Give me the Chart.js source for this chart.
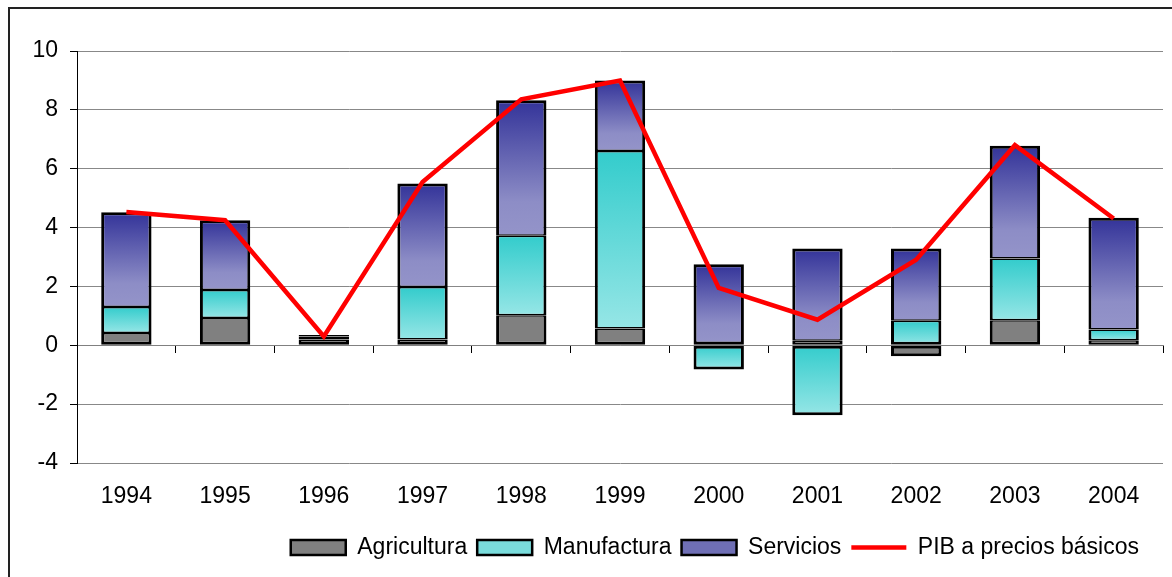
<!DOCTYPE html>
<html>
<head>
<meta charset="utf-8">
<script src="https://cdn.jsdelivr.net/npm/chart.js@4.4.1/dist/chart.umd.min.js"></script>
<style>
  html, body { margin: 0; padding: 0; background: #fff; }
  #wrap { position: relative; width: 1172px; height: 577px; overflow: hidden; }
  #frame { position: absolute; left: 8px; top: 7px; width: 1300px; height: 700px;
           border: 2px solid #222; box-sizing: border-box; pointer-events: none; }
  canvas { position: absolute; left: 0; top: 0; }
</style>
</head>
<body>
<div id="wrap">
  <canvas id="c" width="1172" height="577"></canvas>
  <div id="frame"></div>
</div>
<script>
const years = ['1994','1995','1996','1997','1998','1999','2000','2001','2002','2003','2004'];
const agricultura = [0.42, 0.93, 0.20, 0.20, 1.02, 0.57, 0.08, 0.15, -0.37, 0.85, 0.17];
const manufactura = [0.88, 0.95, 0.10, 1.78, 2.70, 6.03, -0.82, -2.38, 0.83, 2.10, 0.37];
const servicios   = [3.22, 2.37, 0.05, 3.52, 4.61, 2.40, 2.67, 3.14, 2.46, 3.83, 3.79];
const pib         = [4.53, 4.25, 0.30, 5.55, 8.36, 9.00, 1.95, 0.87, 2.91, 6.80, 4.31];
const yTicks = [-4, -2, 0, 2, 4, 6, 8, 10];

const barSeries = [agricultura, manufactura, servicios];
const FONT = 'Liberation Sans, Arial, sans-serif';

function sameSign(a, b) { return (a >= 0) === (b >= 0); }

function gradientFill(stops, fallback) {
  return function (c) {
    const chart = c.chart;
    const ys = chart.scales && chart.scales.y;
    if (!ys || c.type !== 'data' || c.dataIndex === undefined) return fallback;
    const i = c.dataIndex, d = c.datasetIndex;
    const v = barSeries[d][i];
    let base = 0;
    for (let k = 0; k < d; k++) {
      const w = barSeries[k][i];
      if (sameSign(w, v)) base += w;
    }
    const top = Math.max(base, base + v), bot = Math.min(base, base + v);
    const yt = ys.getPixelForValue(top), yb = ys.getPixelForValue(bot);
    if (!isFinite(yt) || !isFinite(yb) || yt === yb) return fallback;
    const g = chart.ctx.createLinearGradient(0, yt, 0, yb);
    stops.forEach(s => g.addColorStop(s[0], s[1]));
    return g;
  };
}

// outer edges of each stack get a thick outline, shared seams a thinner one
function borderFor(c) {
  if (c.type !== 'data' || c.dataIndex === undefined) return 2.5;
  const i = c.dataIndex, d = c.datasetIndex;
  const v = barSeries[d][i];
  let hasBefore = false, hasAfter = false;
  for (let k = 0; k < barSeries.length; k++) {
    if (k === d) continue;
    const w = barSeries[k][i];
    if (w !== 0 && sameSign(w, v)) { if (k < d) hasBefore = true; else hasAfter = true; }
  }
  const outer = 3, inner = 1.5;
  const farEdge = hasAfter ? inner : outer;   // away from zero
  const nearEdge = hasBefore ? inner : outer; // towards zero
  return v >= 0
    ? { top: farEdge, bottom: nearEdge, left: outer, right: outer }
    : { top: nearEdge, bottom: farEdge, left: outer, right: outer };
}

const manufFill = gradientFill([[0, '#33CCCC'], [1, '#96E6E6']], '#6FDADA');
const servFill = gradientFill([[0, '#333399'], [0.75, '#8D8DC6'], [1, '#9494C9']], '#6D6DB4');
const legendFills = ['#808080', '#7ADCDC', '#6F6FB5'];

const barCommon = {
  type: 'bar',
  stack: 'sectores',
  borderColor: '#000000',
  borderWidth: borderFor,
  borderSkipped: false,
  barPercentage: 0.51,
  categoryPercentage: 1.0,
  order: 1
};

const legendShift = {
  id: 'legendShift',
  afterLayout(chart) {
    if (chart.legend) { chart.legend.left -= 14; chart.legend.right -= 14; }
  }
};

new Chart(document.getElementById('c'), {
  data: {
    labels: years,
    datasets: [
      Object.assign({}, barCommon, { label: 'Agricultura', data: agricultura, backgroundColor: '#808080' }),
      Object.assign({}, barCommon, { label: 'Manufactura', data: manufactura, backgroundColor: manufFill }),
      Object.assign({}, barCommon, { label: 'Servicios', data: servicios, backgroundColor: servFill }),
      {
        type: 'line', label: 'PIB a precios básicos', data: pib, stack: 'pib',
        borderColor: '#FF0000', backgroundColor: '#FF0000', borderWidth: 4.5,
        pointRadius: 0, pointHoverRadius: 0, tension: 0, fill: false, order: 0
      }
    ]
  },
  plugins: [legendShift],
  options: {
    responsive: false,
    animation: false,
    devicePixelRatio: 1,
    layout: { padding: { top: 51, right: 9, bottom: 8, left: 0 } },
    plugins: {
      tooltip: { enabled: false },
      legend: {
        position: 'bottom',
        align: 'end',
        labels: {
          usePointStyle: true,
          pointStyleWidth: 55,
          boxHeight: 15,
          padding: 10,
          color: '#000',
          font: { family: FONT, size: 23 },
          sort: (a, b) => a.datasetIndex - b.datasetIndex,
          generateLabels: function (chart) {
            const items = Chart.defaults.plugins.legend.labels.generateLabels(chart);
            items.forEach(it => {
              if (it.datasetIndex < 3) {
                it.pointStyle = 'rect';
                it.fillStyle = legendFills[it.datasetIndex];
                it.strokeStyle = '#000';
                it.lineWidth = 2.5;
              } else {
                it.pointStyle = 'line';
                it.strokeStyle = '#FF0000';
                it.fillStyle = '#FF0000';
                it.lineWidth = 4.5;
              }
            });
            return items;
          }
        }
      }
    },
    scales: {
      x: {
        type: 'category',
        stacked: true,
        offset: true,
        grid: { display: false, drawTicks: false },
        border: { display: false },
        ticks: { color: '#000', font: { family: FONT, size: 23 }, padding: 20, maxRotation: 0 },
        afterFit: s => { s.height = 63; }
      },
      x2: {
        type: 'category',
        labels: years,
        position: { y: 0 },
        offset: true,
        grid: { display: true, offset: true, drawOnChartArea: false, drawTicks: true, tickLength: 7, color: '#000', lineWidth: 1 },
        border: { display: true, color: '#808080', width: 1 },
        ticks: { display: false }
      },
      y: {
        stacked: true,
        min: -4,
        max: 10,
        afterBuildTicks: s => { s.ticks = yTicks.map(v => ({ value: v })); },
        grid: { color: '#888888', lineWidth: 1, tickLength: 7, tickColor: '#000' },
        border: { display: true, color: '#000', width: 1 },
        ticks: { color: '#000', font: { family: FONT, size: 23 }, padding: 12, callback: v => String(v) },
        afterFit: s => { s.width = 77; }
      }
    }
  }
});
</script>
</body>
</html>
